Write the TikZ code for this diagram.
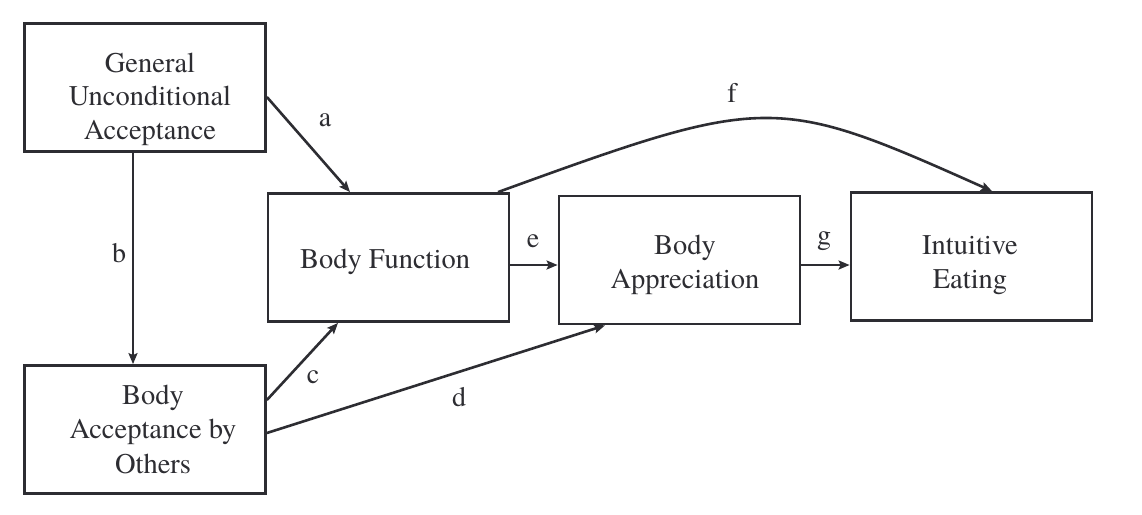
\documentclass[tikz,border=0pt]{standalone}
\usepackage{fontspec}
\setmainfont{texgyretermes-regular.otf}
\usetikzlibrary{arrows.meta}
\definecolor{ink}{RGB}{45,45,50}
\begin{document}
\begin{tikzpicture}[x=1pt,y=-1pt,
  box/.style={draw=ink,line width=2.8pt,minimum width=241pt,minimum height=128pt,inner sep=0pt},
  txt/.style={font=\fontsize{28.5}{33.5}\selectfont,align=center,text=ink,inner sep=0pt},
  lbl/.style={font=\fontsize{28}{30}\selectfont,text=ink,inner sep=0pt},
  arr/.style={draw=ink,line width=2.6pt,-{Stealth[length=11pt,width=9pt,inset=2pt]}}]
\useasboundingbox[fill=white] (0,0) rectangle (1142,514);
% boxes
\node[box] (gua) at (145,87.5) {};
\node[box] (bf)  at (388.5,257.5) {};
\node[box] (ba)  at (679.5,260) {};
\node[box] (ie)  at (971.5,256.5) {};
\node[box] (bao) at (145,429.5) {};
% texts
\node[txt] (tgua) at (150,99) {General\\Unconditional\\Acceptance};
\node[txt] (tbf)  at (385,262) {Body Function};
\node[txt] (tba)  at (685,265) {Body\\Appreciation};
\node[txt] (tie)  at (970,265) {Intuitive\\Eating};
\node[txt,font=\fontsize{28.5}{34.5}\selectfont] (tbao) at (153,429) {Body\\Acceptance by\\Others};
% connectors
\draw[arr] ([yshift=-9.5pt]gua.east) -- ([xshift=-38.5pt]bf.north);
\draw[arr] ([xshift=-12pt]gua.south) -- ([xshift=-12pt]bao.north);
\draw[arr] ([yshift=29.5pt]bao.east) -- ([xshift=-50.5pt]bf.south);
\draw[arr] ([yshift=-3.5pt]bao.east) -- ([xshift=-74.5pt]ba.south);
\draw[arr] ([yshift=-7.5pt]bf.east) -- ([yshift=-7.5pt]bf.east -| ba.west);
\draw[arr] ([yshift=-5pt]ba.east) -- ([yshift=-5pt]ba.east -| ie.west);
\draw[arr] ([xshift=109.5pt]bf.north) .. controls (768,94) and (775,94) .. ([xshift=20.5pt]ie.north);
% labels
\node[lbl] (la) at (325,120) {a};
\node[lbl] (lb) at (119,253) {b};
\node[lbl] (lc) at (313,377) {c};
\node[lbl] (ld) at (459,397) {d};
\node[lbl] (le) at (533,241) {e};
\node[lbl] (lf) at (732,93) {f};
\node[lbl] (lg) at (824,241) {g};
\end{tikzpicture}
\end{document}
